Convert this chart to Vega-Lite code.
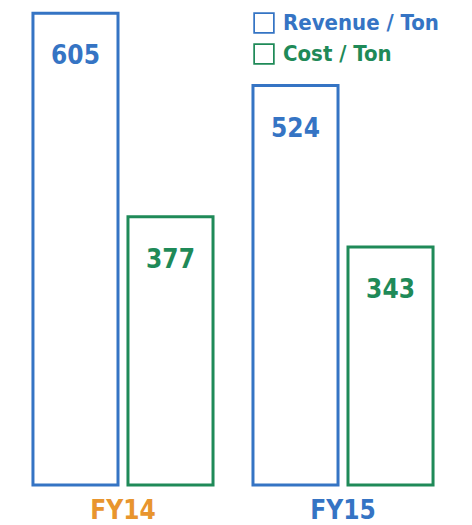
{
  "$schema": "https://vega.github.io/schema/vega-lite/v6.json",
  "width": 466,
  "height": 485,
  "padding": {"left": 0, "top": 0, "right": 0, "bottom": 0},
  "background": "white",
  "config": {"view": {"stroke": null}, "font": "DejaVu Sans Condensed, Roboto, sans-serif"},
  "data": {
    "values": [
      {"year": "FY14", "series": "Revenue / Ton", "value": 605},
      {"year": "FY14", "series": "Cost / Ton", "value": 377},
      {"year": "FY15", "series": "Revenue / Ton", "value": 524},
      {"year": "FY15", "series": "Cost / Ton", "value": 343}
    ]
  },
  "encoding": {
    "x": {
      "field": "year", "type": "nominal", "title": null,
      "scale": {"paddingInner": 0.1, "paddingOuter": 0.109},
      "axis": {
        "domain": false, "ticks": false, "labelAngle": 0,
        "labelFont": "DejaVu Sans Condensed, Roboto, sans-serif", "labelFontWeight": "bold", "labelFontSize": 26,
        "labelPadding": 12,
        "labelColor": {"condition": {"test": "datum.value === 'FY14'", "value": "#e8952e"}, "value": "#3574c4"}
      }
    },
    "xOffset": {
      "field": "series", "type": "nominal",
      "sort": ["Revenue / Ton", "Cost / Ton"],
      "scale": {"paddingInner": 0.105, "paddingOuter": 0.0945}
    },
    "y": {
      "field": "value", "type": "quantitative", "axis": null,
      "scale": {"domain": [76, 620], "zero": false, "nice": false}
    }
  },
  "layer": [
    {
      "mark": {"type": "bar", "fill": "white", "strokeWidth": 3, "clip": false},
      "encoding": {
        "y2": {"datum": 76},
        "stroke": {
          "field": "series", "type": "nominal",
          "sort": ["Revenue / Ton", "Cost / Ton"],
          "scale": {"domain": ["Revenue / Ton", "Cost / Ton"], "range": ["#3574c4", "#1f8a58"]},
          "legend": {
            "title": null, "orient": "none", "legendX": 253, "legendY": 12,
            "symbolType": "M-1,-1H1V1H-1Z M-0.84,-0.84V0.84H0.84V-0.84Z", "symbolSize": 460,
            "symbolStrokeWidth": 0, "symbolOpacity": 1,
            "labelFont": "DejaVu Sans Condensed, Roboto, sans-serif", "labelFontWeight": "bold", "labelFontSize": 22,
            "labelOffset": 8, "rowPadding": 9, "labelLimit": 300,
            "labelColor": {"expr": "datum.label === 'Revenue / Ton' ? '#3574c4' : '#1f8a58'"}
          }
        }
      }
    },
    {
      "mark": {"type": "text", "dy": 43, "baseline": "middle", "font": "DejaVu Sans Condensed, Roboto, sans-serif", "fontWeight": "bold", "fontSize": 26},
      "encoding": {
        "text": {"field": "value", "type": "quantitative"},
        "color": {
          "field": "series", "type": "nominal",
          "scale": {"domain": ["Revenue / Ton", "Cost / Ton"], "range": ["#3574c4", "#1f8a58"]},
          "legend": null
        }
      }
    }
  ]
}
